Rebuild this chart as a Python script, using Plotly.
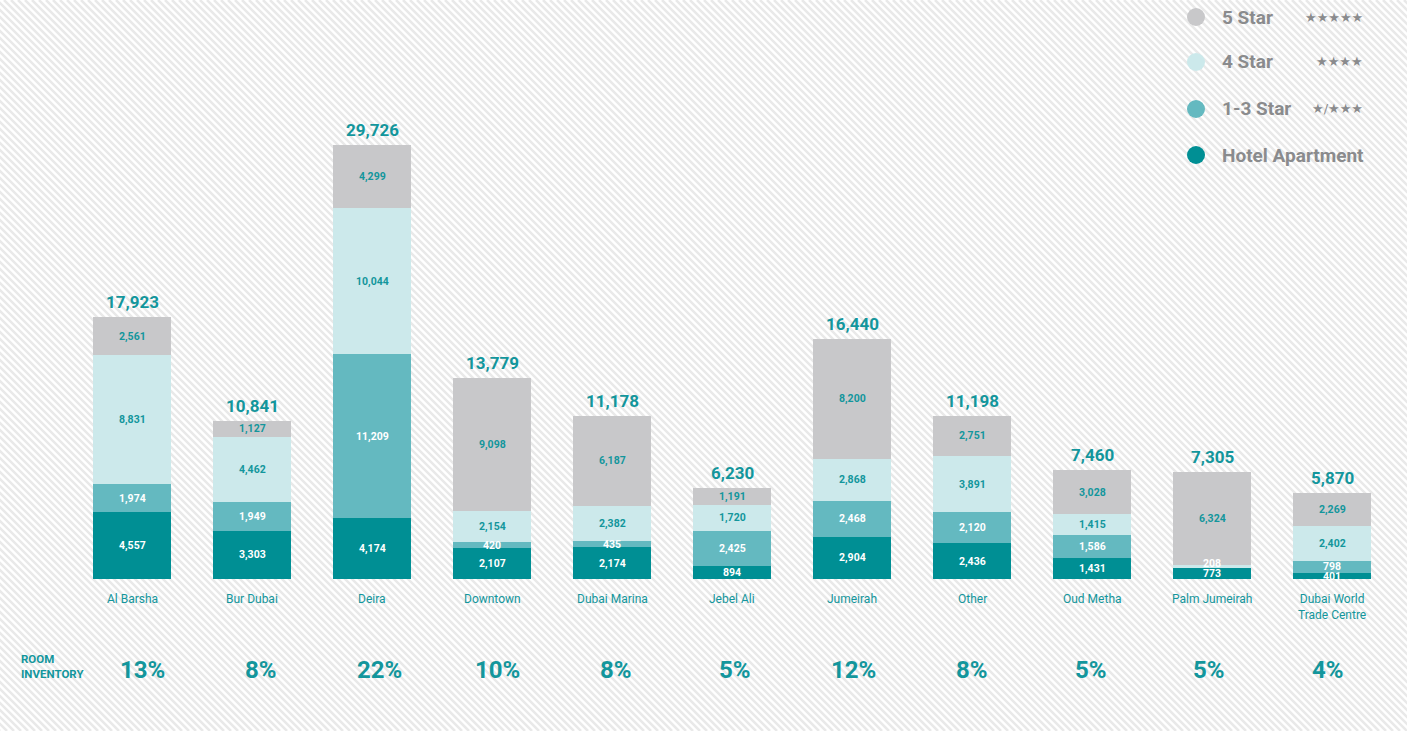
import plotly.graph_objects as go

categories = ["Al Barsha", "Bur Dubai", "Deira", "Downtown", "Dubai Marina", "Jebel Ali",
              "Jumeirah", "Other", "Oud Metha", "Palm Jumeirah", "Dubai World<br>Trade Centre"]
hotel_apartment = [4557, 3303, 4174, 2107, 2174, 894, 2904, 2436, 1431, 773, 401]
star_1_3 = [1974, 1949, 11209, 420, 435, 2425, 2468, 2120, 1586, 0, 798]
star_4 = [8831, 4462, 10044, 2154, 2382, 1720, 2868, 3891, 1415, 208, 2402]
star_5 = [2561, 1127, 4299, 9098, 6187, 1191, 8200, 2751, 3028, 6324, 2269]
room_inventory = ["13%", "8%", "22%", "10%", "8%", "5%", "12%", "8%", "5%", "5%", "4%"]

legend_names = ["5 Star", "4 Star", "1-3 Star", "Hotel Apartment"]
legend_stars = ["★★★★★", "★★★★", "★/★★★", ""]

C5 = "#c8c8ca"
C4 = "#cce9eb"
C13 = "#64b9c0"
CHA = "#008f94"
TEAL = "#13969c"
GREY = "#8a8b8d"
FONT = "Roboto"

W, H = 1407, 731
ML, MR, MT, MB = 72, 15, 0, 152
PW = W - ML - MR
PH = H - MT - MB


def px2x(px):
    return (px - ML) / PW


def py2y(py):
    return (H - MB - py) / PH


ymax = 29726 / (579 - 145) * PH
units_per_px = ymax / PH

fig = go.Figure()
series = [("Hotel Apartment", hotel_apartment, CHA, "white"),
          ("1-3 Star", star_1_3, C13, "white"),
          ("4 Star", star_4, C4, TEAL),
          ("5 Star", star_5, C5, TEAL)]
for name, vals, col, tcol in series:
    fig.add_trace(go.Bar(
        x=categories, y=vals, name=name,
        marker=dict(color=col, line=dict(width=0), opacity=1),
        hoverinfo="skip", showlegend=False,
    ))

annotations = []
# segment labels, centred in each segment, nudged up when too close to the one below
min_gap = 10 * units_per_px
for i, cat in enumerate(categories):
    base = 0
    last = None
    for name, vals, col, tcol in series:
        v = vals[i]
        mid = base + v / 2
        base += v
        if not v:
            continue
        ly = mid if last is None else max(mid, last + min_gap)
        color = tcol if ly == mid else "white"
        last = ly
        annotations.append(dict(x=cat, y=ly, xref="x", yref="y", text=f"<b>{v:,}</b>",
                                showarrow=False, yanchor="middle",
                                font=dict(family=FONT, size=10.5, color=color)))

totals = [a + b + c + d for a, b, c, d in zip(hotel_apartment, star_1_3, star_4, star_5)]

for i, (cat, tot, pct) in enumerate(zip(categories, totals, room_inventory)):
    annotations.append(dict(x=cat, y=tot, xref="x", yref="y", text=f"<b>{tot:,}</b>",
                            showarrow=False, yanchor="bottom", yshift=3,
                            font=dict(family=FONT, size=17, color=TEAL)))
    annotations.append(dict(x=cat, y=0, xref="x", yref="paper", text=cat,
                            showarrow=False, yanchor="top", yshift=-11,
                            font=dict(family=FONT, size=12, color=TEAL)))
    annotations.append(dict(x=i, y=0, xref="x2", yref="paper", text=f"<b>{pct}</b>",
                            showarrow=False, yanchor="middle", yshift=-91,
                            font=dict(family=FONT, size=24, color=TEAL)))

annotations.append(dict(x=px2x(19), y=py2y(666), xref="paper", yref="paper",
                        text="<b>ROOM<br>INVENTORY</b>", showarrow=False, xanchor="left",
                        yanchor="middle", align="left",
                        font=dict(family=FONT, size=11.5, color=TEAL)))

shapes = []
# diagonal hatch background
period = 7
start = -H
while start < W:
    shapes.append(dict(type="line", xref="paper", yref="paper",
                       x0=px2x(start), y0=py2y(0), x1=px2x(start + H), y1=py2y(H),
                       line=dict(color="#e9e9e9", width=2.5), layer="below"))
    start += period

# manual legend
leg_cols = [C5, C4, C13, CHA]
leg_py = [17, 62, 109, 155]
for name, stars, col, py in zip(legend_names, legend_stars, leg_cols, leg_py):
    shapes.append(dict(type="circle", xref="paper", yref="paper",
                       xsizemode="pixel", ysizemode="pixel",
                       xanchor=px2x(1196), yanchor=py2y(py),
                       x0=-9, x1=9, y0=-9, y1=9,
                       fillcolor=col, line=dict(width=0)))
    annotations.append(dict(x=px2x(1220), y=py2y(py), xref="paper", yref="paper",
                            text=f"<b>{name}</b>", showarrow=False, xanchor="left",
                            yanchor="middle", font=dict(family=FONT, size=19, color=GREY)))
    if stars:
        annotations.append(dict(x=px2x(1365), y=py2y(py), xref="paper", yref="paper",
                                text=stars, showarrow=False, xanchor="right",
                                yanchor="middle",
                                font=dict(family="DejaVu Sans", size=13, color=GREY)))

# the room-inventory row sits on a slightly tighter spacing than the bars
pct_first_px, pct_step_px = 142, 118.6

fig.update_layout(
    barmode="stack", bargap=0.342,
    width=W, height=H,
    margin=dict(l=ML, r=MR, t=MT, b=MB, pad=0),
    paper_bgcolor="white", plot_bgcolor="rgba(0,0,0,0)",
    xaxis=dict(showticklabels=False, showgrid=False, zeroline=False, showline=False,
               ticks="", range=[-0.5, 10.5]),
    xaxis2=dict(overlaying="x", visible=False,
                range=[(ML - pct_first_px) / pct_step_px,
                       (W - MR - pct_first_px) / pct_step_px]),
    yaxis=dict(visible=False, range=[0, ymax]),
    annotations=annotations, shapes=shapes,
    showlegend=False,
)

fig.write_html("out.html", config={"displayModeBar": False},
               post_script="document.body.style.margin='0';document.body.style.overflow='hidden';")
